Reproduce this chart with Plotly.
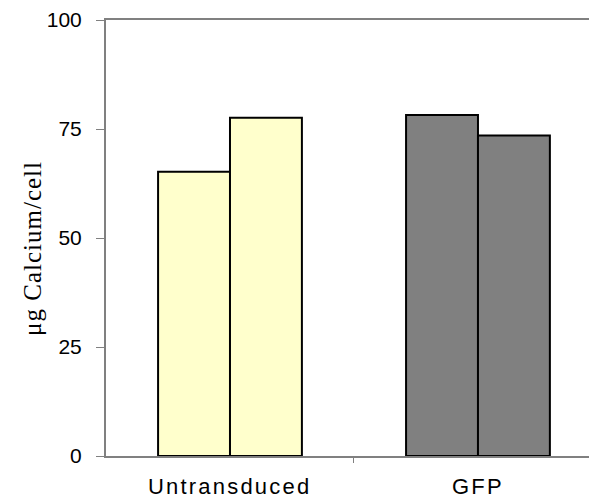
import plotly.graph_objects as go

categories = ["Untransduced", "GFP"]
series_a = [65.2, 78.2]
series_b = [77.6, 73.5]
y_ticks = [0, 25, 50, 75, 100]
y_title = "μg Calcium/cell"

fill_colors = ["#FFFFCC", "#808080"]

x_pos = list(range(len(categories)))

fig = go.Figure()
fig.add_trace(go.Bar(x=x_pos, y=series_a, marker=dict(color=fill_colors, line=dict(color="#000000", width=2)), showlegend=False))
fig.add_trace(go.Bar(x=x_pos, y=series_b, marker=dict(color=fill_colors, line=dict(color="#000000", width=2)), showlegend=False))

fig.update_layout(
    width=589, height=494,
    margin=dict(l=98, r=0, t=12, b=46),
    plot_bgcolor="white", paper_bgcolor="white",
    barmode="group", bargap=0.42, bargroupgap=0,
    font=dict(family="Liberation Sans, Arial, sans-serif", size=21, color="#000000"),
    xaxis=dict(
        range=[-0.5, 1.48], tickvals=[0.5], ticktext=[""], ticks="outside", ticklen=5,
        tickcolor="#808080", showline=True, linecolor="#808080", linewidth=2, mirror=True,
        showgrid=False, zeroline=False,
    ),
    yaxis=dict(
        range=[0, 100], tickvals=y_ticks, ticktext=[str(t) for t in y_ticks],
        ticks="outside", ticklen=8, tickcolor="#808080", showline=True, linecolor="#808080",
        linewidth=2, showgrid=False, zeroline=False, ticklabelstandoff=10,
    ),
)

fig.add_annotation(x=-0.151, y=0.477, xref="paper", yref="paper", textangle=-90,
                   text=f'<span style="letter-spacing:1px">{y_title}</span>', showarrow=False,
                   xanchor="center", yanchor="middle",
                   font=dict(family="Liberation Serif, Times New Roman, serif", size=25))

for i, c in enumerate(categories):
    fig.add_annotation(x=x_pos[i], y=0, xref="x", yref="y", yshift=-30,
                       text=f'<span style="letter-spacing:2.2px">{c}</span>', showarrow=False,
                       font=dict(family="Liberation Sans, Arial, sans-serif", size=22))

fig.write_html("out.html")
